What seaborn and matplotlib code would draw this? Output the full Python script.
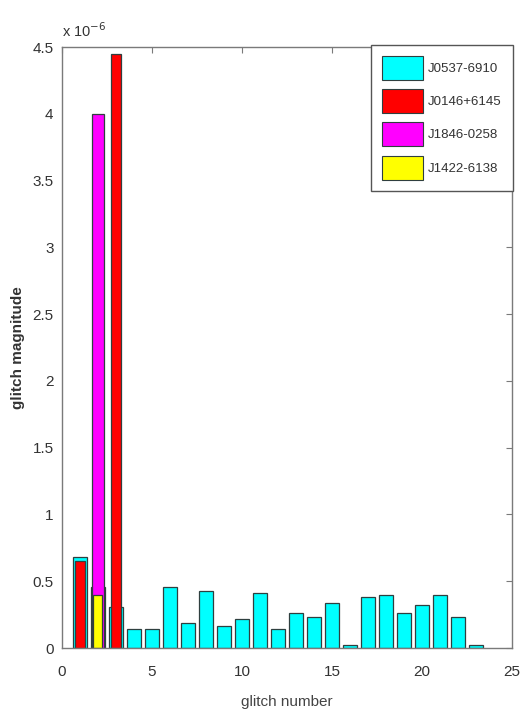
import matplotlib
matplotlib.use("Agg")
import matplotlib.pyplot as plt
import seaborn as sns
import pandas as pd
from matplotlib.patches import Patch

# Glitch magnitudes (units of 1e-6)
j0537_glitch = list(range(1, 24))
j0537_mag = [0.68, 0.46, 0.31, 0.14, 0.14, 0.46, 0.19, 0.43, 0.165, 0.22,
             0.415, 0.14, 0.26, 0.235, 0.34, 0.02, 0.385, 0.40, 0.26, 0.32,
             0.40, 0.235, 0.02]
j0146_glitch = [1, 3]
j0146_mag = [0.65, 4.45]
j1846_glitch = [2]
j1846_mag = [4.0]
j1422_glitch = [2]
j1422_mag = [0.40]

names = ["J0537-6910", "J0146+6145", "J1846-0258", "J1422-6138"]
colors = ["#00ffff", "#ff0000", "#ff00ff", "#ffff00"]

sns.set_theme(style="white")
plt.rcParams["font.family"] = ["Liberation Sans", "DejaVu Sans"]

fig = plt.figure(figsize=(5.25, 7.15), dpi=100)
ax = fig.add_axes([0.118, 0.0937, 0.857, 0.8405])

edge = "#2f3f3f"
series = [
    (j0537_glitch, j0537_mag, colors[0], 0.8),
    (j1846_glitch, j1846_mag, colors[2], 0.66),
    (j0146_glitch, j0146_mag, colors[1], 0.28),
    (j1422_glitch, j1422_mag, colors[3], 0.5),
]
for gx, gy, col, w in series:
    df = pd.DataFrame({"glitch": gx, "mag": gy})
    sns.barplot(data=df, x="glitch", y="mag", native_scale=True, color=col,
                width=w, saturation=1, edgecolor=edge, linewidth=0.9,
                errorbar=None, ax=ax)

ax.set_xlim(0, 25)
ax.set_ylim(0, 4.5)
ax.set_xticks([0, 5, 10, 15, 20, 25])
ax.set_xticklabels(["0", "5", "10", "15", "20", "25"])
ax.set_yticks([0, 0.5, 1, 1.5, 2, 2.5, 3, 3.5, 4, 4.5])
ax.set_yticklabels(["0", "0.5", "1", "1.5", "2", "2.5", "3", "3.5", "4", "4.5"])

spine_col = "#7a7a7a"
for s in ax.spines.values():
    s.set_visible(True)
    s.set_color(spine_col)
    s.set_linewidth(1.0)
ax.tick_params(direction="in", length=4, width=0.8, color=spine_col,
               top=True, right=True, labelsize=11, labelcolor="#333333")
ax.tick_params(axis="x", pad=12)
ax.tick_params(axis="y", pad=6)

ax.set_xlabel("glitch number", fontsize=11, color="#444444", labelpad=12)
ax.set_ylabel("glitch magnitude", fontsize=11, color="#333333",
              fontweight="bold", labelpad=-10)
ax.yaxis.set_label_coords(-0.083, 0.5)
ax.text(0.0, 1.012, r"x 10$^{-6}$", transform=ax.transAxes, fontsize=10.5,
        color="#333333", ha="left", va="bottom")

handles = [Patch(facecolor=c, edgecolor=edge, linewidth=0.8) for c in colors]
leg = ax.legend(handles, names, loc="upper right", bbox_to_anchor=(1.002, 1.004),
                fontsize=9.5, handlelength=3.1, handleheight=2.4,
                labelspacing=0.72, handletextpad=0.35, borderpad=0.85,
                borderaxespad=0, frameon=True, fancybox=False, framealpha=1)
leg.get_frame().set_edgecolor("#555555")
leg.get_frame().set_linewidth(1.0)
for t in leg.get_texts():
    t.set_color("#333333")

fig.savefig("out.png", dpi=100, facecolor="white")
